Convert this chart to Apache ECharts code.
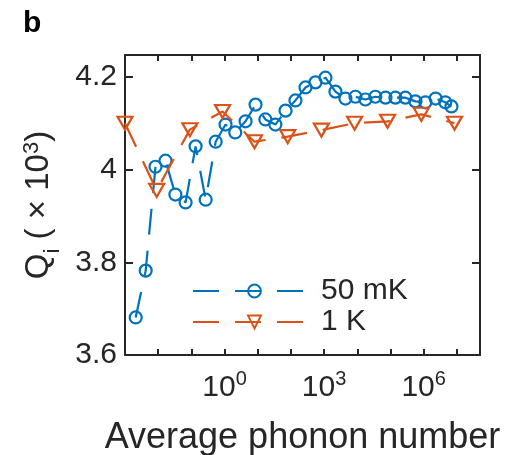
<!DOCTYPE html>
<html><head><meta charset="utf-8">
<script src="https://cdn.jsdelivr.net/npm/echarts@6/dist/echarts.min.js"></script>
<style>html,body{margin:0;padding:0;background:#fff}#c{width:505px;height:455px}</style>
</head><body><div id="c"></div>
<script>
const seriesNames = ['50 mK', '1 K'];
const blueX = [0.0021, 0.0042, 0.0083, 0.0166, 0.033, 0.067, 0.134, 0.27, 0.54, 1.07, 2.1, 4.3, 8.6, 17, 34, 69, 137, 275, 550, 1100, 2200, 4400, 8800, 17600, 35000, 71000, 141000, 282000, 563000, 1.13e6, 2.3e6, 4.5e6, 6.9e6];
const blueY = [3.681, 3.782, 4.006, 4.019, 3.946, 3.929, 4.050, 3.935, 4.060, 4.097, 4.080, 4.104, 4.140, 4.108, 4.097, 4.127, 4.149, 4.177, 4.188, 4.198, 4.168, 4.153, 4.157, 4.151, 4.157, 4.155, 4.155, 4.155, 4.147, 4.145, 4.153, 4.145, 4.136];
const orangeX = [0.001, 0.009, 0.09, 0.87, 8, 80, 830, 8300, 82000, 850000, 8.5e6];
const orangeY = [4.100, 3.955, 4.086, 4.125, 4.060, 4.071, 4.085, 4.100, 4.104, 4.119, 4.100];
const xLabelExponents = [0, 3, 6];
const yTickValues = [3.6, 3.8, 4, 4.2];

const FONT = 'Liberation Sans, Arial, sans-serif';
const TXT = '#262626';
const BLUE = '#0072BD';
const RED = '#D95319';

const chart = echarts.init(document.getElementById('c'));

function xLabel(v) {
  const e = Math.round(Math.log10(v));
  if (Math.abs(Math.log10(v) - e) > 1e-6) return '';
  if (xLabelExponents.indexOf(e) < 0) return '';
  return '{b|10}{s|' + e + '}';
}
function yLabel(v) {
  for (const t of yTickValues) if (Math.abs(t - v) < 1e-6) return String(+t.toFixed(1));
  return '';
}

const xCommon = {
  type: 'log', logBase: 10, min: 0.001, max: 5e7, interval: 1, splitNumber: 11,
  axisLine: { show: true, lineStyle: { color: TXT, width: 2 } },
  axisTick: { show: true, inside: true, length: 6, lineStyle: { color: TXT, width: 2 } },
  splitLine: { show: false }, minorTick: { show: false }
};
const yCommon = {
  type: 'value', min: 3.6, max: 4.247, interval: 0.2,
  axisLine: { show: true, lineStyle: { color: TXT, width: 2 } },
  axisTick: { show: true, inside: true, length: 8, lineStyle: { color: TXT, width: 2 } },
  splitLine: { show: false }
};

chart.setOption({
  animation: false,
  backgroundColor: '#fff',
  title: { text: 'b', left: 18, top: 4, textStyle: { fontFamily: FONT, fontSize: 30, fontWeight: 'bold', color: '#000' } },
  grid: { left: 125, right: 25, top: 55, bottom: 100, containLabel: false, outerBoundsMode: 'none' },
  legend: {
    left: 187, top: 271, orient: 'vertical', itemGap: 1,
    itemWidth: 123, itemHeight: 16,
    textStyle: { fontFamily: FONT, fontSize: 30, color: TXT },
    data: seriesNames
  },
  xAxis: [
    Object.assign({}, xCommon, {
      position: 'bottom',
      name: 'Average phonon number', nameLocation: 'middle', nameGap: 65,
      nameTextStyle: { fontFamily: FONT, fontSize: 36, color: TXT },
      axisLabel: {
        show: true, margin: 14, formatter: xLabel, color: TXT,
        rich: {
          b: { fontFamily: FONT, fontSize: 30, color: TXT, lineHeight: 34, verticalAlign: 'bottom' },
          s: { fontFamily: FONT, fontSize: 20, color: TXT, lineHeight: 20, verticalAlign: 'top' }
        }
      }
    }),
    Object.assign({}, xCommon, { position: 'top', axisLabel: { show: false } })
  ],
  yAxis: [
    Object.assign({}, yCommon, {
      position: 'left',
      name: '{q|Q}{sub|i}{q| ( × 10}{sup|3}{q|)}', nameLocation: 'middle', nameGap: 68, nameRotate: 90,
      nameTextStyle: {
        rich: {
          q: { fontFamily: FONT, fontSize: 33, color: TXT, lineHeight: 36 },
          sub: { fontFamily: FONT, fontSize: 22, color: TXT, lineHeight: 14, verticalAlign: 'bottom', padding: [0, 0, -7, 0] },
          sup: { fontFamily: FONT, fontSize: 22, color: TXT, lineHeight: 20, verticalAlign: 'top' }
        }
      },
      axisLabel: { show: true, margin: 8, formatter: yLabel, fontFamily: FONT, fontSize: 30, color: TXT, showMaxLabel: false }
    }),
    Object.assign({}, yCommon, { position: 'right', axisLabel: { show: false } })
  ],
  series: [
    {
      name: seriesNames[0], type: 'line', xAxisIndex: 0, yAxisIndex: 0,
      data: blueX.map((x, i) => [x, blueY[i]]),
      symbol: 'circle', symbolSize: 12, showAllSymbol: true,
      itemStyle: { color: 'rgba(255,255,255,0)', borderColor: BLUE, borderWidth: 2.2 },
      lineStyle: { color: BLUE, width: 2.2, type: [26, 16] },
      z: 2
    },
    {
      name: seriesNames[1], type: 'line', xAxisIndex: 0, yAxisIndex: 0,
      data: orangeX.map((x, i) => [x, orangeY[i]]),
      symbol: 'triangle', symbolRotate: 180, symbolSize: [15, 13], showAllSymbol: true,
      itemStyle: { color: 'rgba(255,255,255,0)', borderColor: RED, borderWidth: 2.2 },
      lineStyle: { color: RED, width: 2.2, type: [26, 16] },
      z: 3
    }
  ]
});
</script>
</body></html>
